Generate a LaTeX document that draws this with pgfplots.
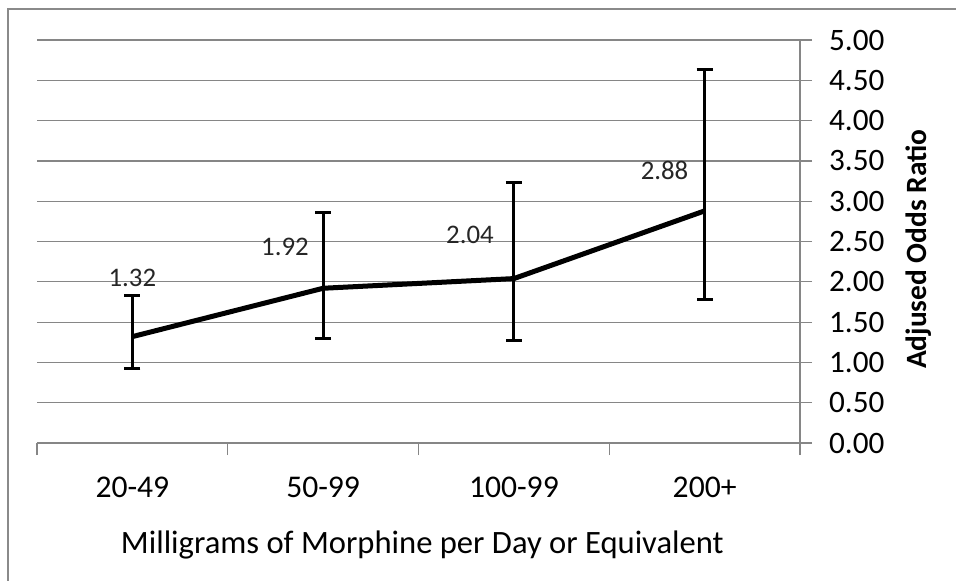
\documentclass[border=0pt]{standalone}
\usepackage{pgfplots}
\pgfplotsset{compat=1.18}
\usepackage{fontspec}
\setmainfont{Carlito}
\definecolor{gridgray}{HTML}{868686}
\definecolor{framegray}{HTML}{8A8A8A}
\begin{document}
\begin{tikzpicture}
\useasboundingbox (0pt,0pt) rectangle (478pt,-290pt);
\begin{scope}
\clip (0pt,0pt) rectangle (478pt,-290pt);
\draw[framegray, line width=1pt] (4pt,-310pt) -- (4pt,-4.5pt) -- (495pt,-4.5pt);
\end{scope}
\begin{axis}[
  at={(18.5pt,-221.5pt)}, anchor=south west,
  scale only axis, width=381.5pt, height=201.5pt,
  xmin=-0.5, xmax=3.5, ymin=0, ymax=5,
  axis x line*=bottom, axis y line*=right,
  axis line style={gridgray, line width=0.6pt},
  tick align=outside,
  major tick length=6pt,
  tick style={gridgray, line width=0.6pt},
  xtick={-0.5,0.5,1.5,2.5,3.5},
  x tick label as interval=true,
  xticklabels={20-49,50-99,100-99,200+},
  xticklabel style={font=\fontsize{15.8}{17}\selectfont, text=black, yshift=-7.5pt},
  ytick={0,0.5,...,5},
  yticklabel style={font=\fontsize{15.6}{17}\selectfont, text=black, xshift=5pt,
    /pgf/number format/.cd, fixed, fixed zerofill, precision=2, assume math mode=true},
  ymajorgrids=true,
  grid style={gridgray, line width=0.6pt},
  xlabel={Milligrams of Morphine per Day or Equivalent},
  ylabel={\bfseries Adjused Odds Ratio},
  every axis x label/.style={at={(axis description cs:0.505,-0.253)}, anchor=center, font=\fontsize{16.3}{18}\selectfont},
  every axis y label/.style={at={(axis description cs:1.155,0.481)}, rotate=90, anchor=center, font=\fontsize{14.7}{16}\selectfont},
  clip=false,
]
\addplot[black, line width=2.5pt, mark=none,
  error bars/.cd, y dir=both, y explicit,
  error bar style={line width=1.5pt, black},
  error mark options={rotate=90, line width=1.5pt, mark size=4pt, black}]
coordinates {
  (0,1.32) += (0,0.51) -= (0,0.39)
  (1,1.92) += (0,0.94) -= (0,0.62)
  (2,2.04) += (0,1.19) -= (0,0.77)
  (3,2.88) += (0,1.75) -= (0,1.10)
};
\node[font=\fontsize{13.4}{15}\selectfont, text=black!85] at (axis cs:0,2.05) {1.32};
\node[font=\fontsize{13.4}{15}\selectfont, text=black!85] at (axis cs:0.80,2.43) {1.92};
\node[font=\fontsize{13.4}{15}\selectfont, text=black!85] at (axis cs:1.77,2.58) {2.04};
\node[font=\fontsize{13.4}{15}\selectfont, text=black!85] at (axis cs:2.79,3.38) {2.88};
\end{axis}
\end{tikzpicture}
\end{document}
